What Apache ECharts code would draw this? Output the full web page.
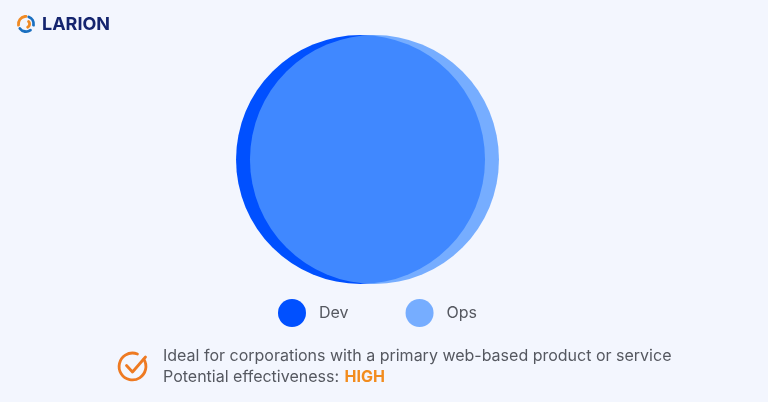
<!DOCTYPE html>
<html>
<head>
<meta charset="utf-8">
<style>
html, body { margin: 0; padding: 0; background: #f3f6fe; }
#chart { width: 768px; height: 402px; }
</style>
<script src="https://cdn.jsdelivr.net/npm/echarts@6/dist/echarts.min.js"></script>
</head>
<body>
<div id="chart"></div>
<script>
// venn sets, sizes in % of the diameter, offsets from the middle
var setNames = ['Dev', 'Ops'];
var setSizes = [100, 100];
var setOffsets = [-2.8, 2.8];
var setLevels = [0, 0];
var brandName = 'LARION';
var noteLine1 = 'Ideal for corporations with a primary web-based product or service';
var noteLine2 = 'Potential effectiveness: ';
var noteRating = 'HIGH';

var font = 'Inter';
var diameter = 249;
var colors = ['#0050ff', '#5298ff'];
var opacities = [1, 0.78];

var chart = echarts.init(document.getElementById('chart'), null, { renderer: 'canvas' });

var series = setNames.map(function (name, i) {
	return {
		name: name,
		type: 'scatter',
		clip: false,
		silent: true,
		symbol: 'circle',
		symbolSize: function (v) { return v[2] / 100 * diameter; },
		itemStyle: { color: colors[i], opacity: opacities[i] },
		data: [[setOffsets[i], setLevels[i], setSizes[i]]]
	};
});

// logo swirl: arcs around one centre
function swirl(r0, start, end, color) {
	return {
		type: 'arc',
		shape: { cx: 26, cy: 24, r: r0, startAngle: start, endAngle: end },
		style: { stroke: color, fill: null, lineWidth: 2.8, lineCap: 'round' }
	};
}

chart.setOption({
	animation: false,
	backgroundColor: '#f3f6fe',
	grid: { left: 243, top: 35, width: 249, height: 249 },
	xAxis: { type: 'value', min: -50, max: 50, show: false },
	yAxis: { type: 'value', min: -50, max: 50, show: false },
	legend: {
		left: 278,
		top: 299,
		padding: 0,
		data: setNames,
		icon: 'circle',
		itemWidth: 28,
		itemHeight: 28,
		itemGap: 57,
		selectedMode: false,
		textStyle: { fontFamily: font, fontSize: 16, color: '#555860', padding: [2, 0, 0, 8] }
	},
	series: series,
	graphic: [
		swirl(7.6, Math.PI * 0.95, Math.PI * 1.5, '#f08a24'),
		swirl(7.6, Math.PI * 1.62, Math.PI * 2.05, '#1a6fc0'),
		swirl(7.6, Math.PI * 0.3, Math.PI * 0.8, '#1a6fc0'),
		swirl(3.6, Math.PI * 1.75, Math.PI * 2.35, '#f08a24'),
		{
			type: 'text', left: 42, top: 16,
			style: { text: brandName, fontFamily: font, fontSize: 18, fontWeight: 700, fill: '#14246e' }
		},
		{
			type: 'arc',
			shape: { cx: 132.5, cy: 366.5, r: 13.4, startAngle: Math.PI * 1.82, endAngle: Math.PI * 1.62, clockwise: true },
			style: { stroke: '#ee7a22', fill: null, lineWidth: 2.8, lineCap: 'round' }
		},
		{
			type: 'polyline',
			shape: { points: [[126.5, 365.5], [132.5, 372], [145.5, 357]] },
			style: { stroke: '#ee7a22', fill: null, lineWidth: 2.8, lineCap: 'round', lineJoin: 'round' }
		},
		{
			type: 'text', left: 163, top: 348,
			style: { text: noteLine1, fontFamily: font, fontSize: 16, fill: '#555860' }
		},
		{
			type: 'text', left: 163, top: 369,
			style: {
				text: noteLine2 + '{high|' + noteRating + '}',
				fontFamily: font, fontSize: 16, fill: '#555860',
				rich: { high: { fontFamily: font, fontSize: 16, fontWeight: 700, fill: '#f28c1e', color: '#f28c1e', padding: [0, 0, 0, 1] } }
			}
		}
	]
});
</script>
</body>
</html>
